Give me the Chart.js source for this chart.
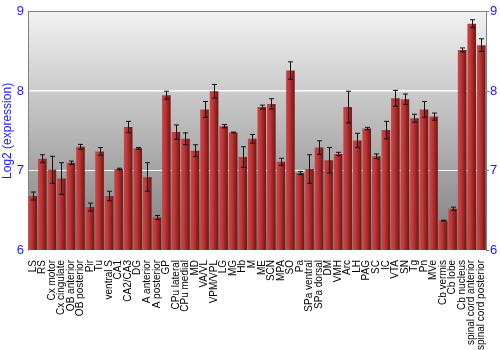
<!DOCTYPE html>
<html>
<head>
<meta charset="utf-8">
<script src="https://cdn.jsdelivr.net/npm/chart.js@4"></script>
<style>
  html, body { margin: 0; padding: 0; background: #fff; }
  #wrap { width: 500px; height: 350px; }
</style>
</head>
<body>
<div id="wrap"><canvas id="chart" width="500" height="350"></canvas></div>
<script>
// brain regions, log2 expression and error
const regions = [
  'LS', 'RS', 'Cx motor', 'Cx cingulate', 'OB anterior', 'OB posterior', 'Pir', 'Tu',
  'ventral S', 'CA1', 'CA2/CA3', 'DG', 'A anterior', 'A posterior', 'GP', 'CPu lateral',
  'CPu medial', 'MD', 'VA/VL', 'VPM/VPL', 'LG', 'MG', 'Hb', 'M', 'ME', 'SCN', 'MPA', 'SO',
  'Pa', 'SPa ventral', 'SPa dorsal', 'DM', 'VMH', 'Arc', 'LH', 'PAG', 'SC', 'IC', 'VTA',
  'SN', 'Tg', 'Pn', 'MVe', 'Cb vermis', 'Cb lobe', 'Cb nucleus', 'spinal cord anterior',
  'spinal cord posterior',
];
const expression = [
  6.68, 7.15, 7.01, 6.90, 7.10, 7.30, 6.54, 7.24,
  6.68, 7.02, 7.55, 7.28, 6.92, 6.41, 7.95, 7.485,
  7.40, 7.25, 7.77, 8.00, 7.56, 7.48, 7.17, 7.40, 7.80, 7.84, 7.11, 8.26,
  6.97, 7.02, 7.29, 7.13, 7.21, 7.80, 7.38, 7.53, 7.18, 7.51, 7.91,
  7.90, 7.66, 7.77, 7.68, 6.37, 6.52, 8.52, 8.85,
  8.58,
];
const errors = [
  0.05, 0.05, 0.17, 0.20, 0.02, 0.03, 0.05, 0.05,
  0.06, 0.01, 0.07, 0.01, 0.18, 0.025, 0.05, 0.09,
  0.075, 0.075, 0.10, 0.085, 0.02, 0.005, 0.13, 0.055, 0.025, 0.065, 0.045, 0.11,
  0.02, 0.18, 0.085, 0.16, 0.02, 0.20, 0.09, 0.015, 0.03, 0.11, 0.10,
  0.065, 0.05, 0.10, 0.045, 0.005, 0.02, 0.025, 0.05,
  0.08,
];
const yTicks = [6, 7, 8, 9];

const BLUE = '#1a1aff';
const FONT = "'Liberation Sans', Arial, sans-serif";

// grey gradient behind the plot
const plotBackground = {
  id: 'plotBackground',
  beforeDraw(chart) {
    const { ctx, chartArea: a } = chart;
    const g = ctx.createLinearGradient(0, a.top, 0, a.bottom);
    g.addColorStop(0, '#f2f2f2');
    g.addColorStop(1, '#7c7c7c');
    ctx.save();
    ctx.fillStyle = g;
    ctx.fillRect(a.left, a.top, a.right - a.left, a.bottom - a.top);
    ctx.restore();
  },
};

// black error bars on top of each bar
const errorBars = {
  id: 'errorBars',
  afterDatasetsDraw(chart) {
    const { ctx } = chart;
    const y = chart.scales.y;
    const meta = chart.getDatasetMeta(0);
    ctx.save();
    ctx.strokeStyle = '#111';
    ctx.lineWidth = 1;
    meta.data.forEach((bar, i) => {
      const x = Math.round(bar.x) + 0.5;
      const hi = y.getPixelForValue(expression[i] + errors[i]);
      const lo = y.getPixelForValue(expression[i] - errors[i]);
      ctx.beginPath();
      ctx.moveTo(x, hi); ctx.lineTo(x, lo);
      ctx.moveTo(x - 2.5, hi); ctx.lineTo(x + 2.5, hi);
      ctx.moveTo(x - 2.5, lo); ctx.lineTo(x + 2.5, lo);
      ctx.stroke();
    });
    ctx.restore();
  },
};

function barFill(c) {
  const chart = c.chart;
  if (!chart.chartArea || c.type !== 'data') return '#b03030';
  const x = chart.scales.x.getPixelForValue(c.dataIndex);
  const half = 4.5;
  const g = chart.ctx.createLinearGradient(x - half, 0, x + half, 0);
  g.addColorStop(0, '#c84848');
  g.addColorStop(0.35, '#c03838');
  g.addColorStop(1, '#6e1212');
  return g;
}

new Chart(document.getElementById('chart'), {
  type: 'bar',
  data: {
    labels: regions,
    datasets: [{
      data: expression,
      backgroundColor: barFill,
      borderWidth: 0,
      barPercentage: 0.9,
      categoryPercentage: 1.0,
    }],
  },
  options: {
    responsive: false,
    animation: false,
    layout: { padding: { top: 10, right: 0, left: 0, bottom: 0 } },
    plugins: { legend: { display: false }, tooltip: { enabled: false } },
    scales: {
      x: {
        grid: { display: false },
        border: { display: false },
        ticks: {
          color: '#000',
          font: { family: FONT, size: 10 },
          minRotation: 90,
          maxRotation: 90,
          autoSkip: false,
          padding: 2,
        },
        afterFit(s) { s.height = 100; },
      },
      y: {
        min: 6,
        max: 9,
        afterBuildTicks(s) { s.ticks = yTicks.map(v => ({ value: v })); },
        grid: {
          color: c => c.tick.value === 9 ? '#808080' : (c.tick.value === 6 ? 'rgba(0,0,0,0)' : '#ffffff'),
          lineWidth: c => c.tick.value === 8 ? 1.5 : 1,
          drawTicks: false,
        },
        border: { color: '#808080' },
        ticks: { color: BLUE, font: { family: FONT, size: 13 }, padding: 4 },
        title: {
          display: true,
          text: 'Log2 (expression)',
          color: BLUE,
          font: { family: FONT, size: 12 },
          padding: 0,
        },
        afterFit(s) { s.width = 28; },
      },
      y2: {
        position: 'right',
        min: 6,
        max: 9,
        afterBuildTicks(s) { s.ticks = yTicks.map(v => ({ value: v })); },
        grid: { drawOnChartArea: false, color: '#808080', tickLength: 3 },
        border: { color: '#808080' },
        ticks: { color: BLUE, font: { family: FONT, size: 13 }, padding: 1 },
        afterFit(s) { s.width = 14; },
      },
    },
  },
  plugins: [plotBackground, errorBars],
});
</script>
</body>
</html>
